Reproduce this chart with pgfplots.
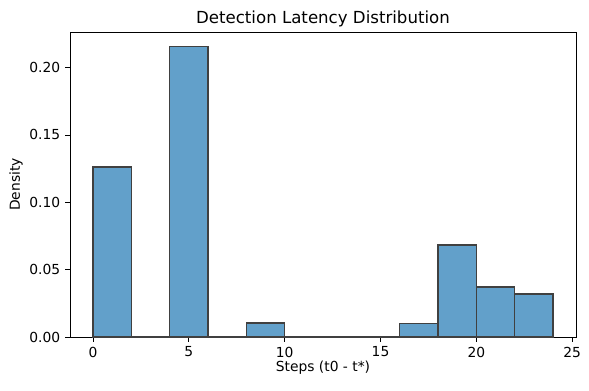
\documentclass[border=0pt]{standalone}
\usepackage{pgfplots}
\pgfplotsset{compat=1.18}
\usepackage{fontspec}
\setmainfont{DejaVu Sans}
\definecolor{barfill}{HTML}{62A0CA}
\definecolor{baredge}{HTML}{404040}
\begin{document}
\begin{tikzpicture}
\begin{axis}[
  scale only axis,
  width=364.3bp, height=219.6bp,
  xmin=-1.2, xmax=25.2,
  ymin=0, ymax=0.2264,
  xtick={0,5,10,15,20,25},
  ytick={0,0.05,0.10,0.15,0.20},
  yticklabel style={/pgf/number format/.cd, fixed, fixed zerofill, precision=2},
  /pgf/number format/assume math mode=true,
  tick align=outside,
  tick pos=left,
  major tick length=3.5bp,
  tick style={black, line width=0.6pt},
  axis line style={line width=0.6pt},
  ticklabel style={font=\fontsize{10}{12}\selectfont},
  title={Detection Latency Distribution},
  title style={font=\fontsize{12}{14}\selectfont, yshift=-6pt},
  xlabel={Steps (t0 - t*)},
  ylabel={Density},
  label style={font=\fontsize{10}{12}\selectfont},
  ylabel style={yshift=-2pt},
  xlabel style={yshift=4pt},
]
\addplot[ybar interval, fill=barfill, draw=baredge, line width=1bp] coordinates {
(0,0.1263) (2,0) (4,0.2156) (6,0) (8,0.0104) (10,0) (12,0) (14,0) (16,0.0102) (18,0.0683) (20,0.0370) (22,0.0318) (24,0.0318)
};
\end{axis}
\path (current axis.south west) ++(-50.4bp,-38.16bp) coordinate (bl);
\path (current axis.north east) ++(9.36bp,23.04bp) coordinate (tr);
\useasboundingbox (bl) rectangle (tr);
\end{tikzpicture}
\end{document}
